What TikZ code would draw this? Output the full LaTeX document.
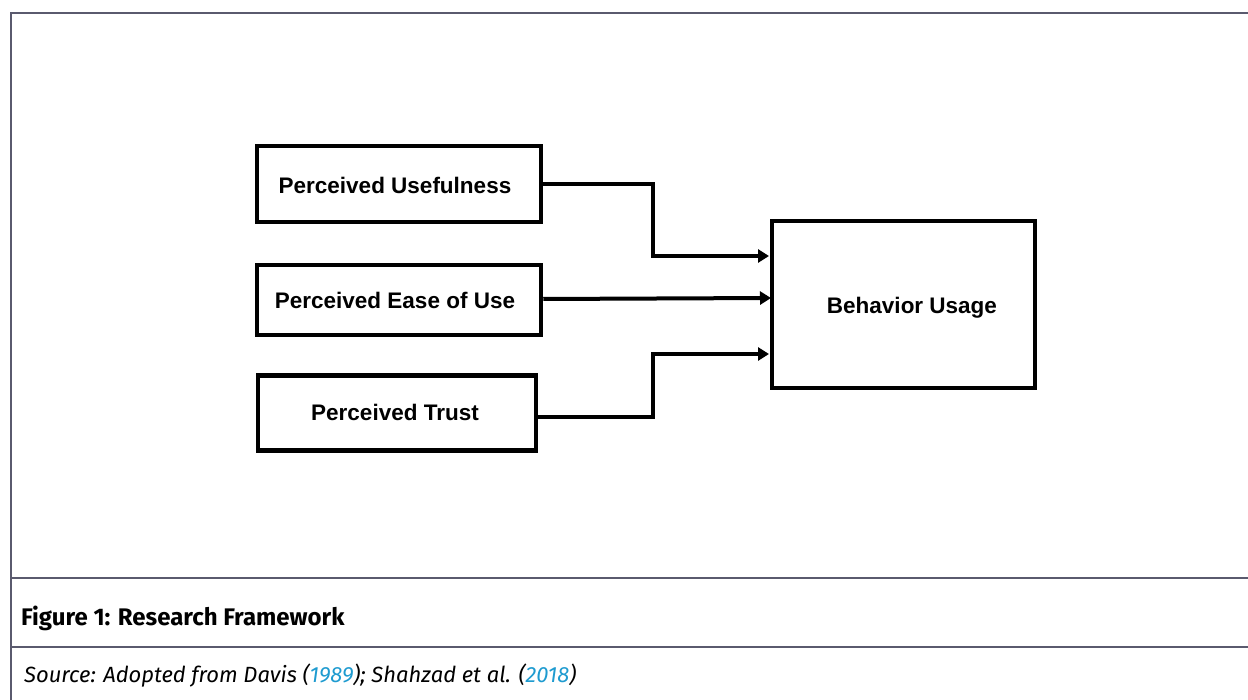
\documentclass[tikz,border=0pt]{standalone}
\usepackage{fontspec}
\setmainfont{Liberation Sans}
\newfontfamily\capfont{Fira Sans}
\usetikzlibrary{arrows.meta}
\definecolor{frame}{HTML}{5A5A6E}
\definecolor{linkc}{HTML}{1E9BD0}
\begin{document}
\begin{tikzpicture}[x=1pt,y=-1pt,
  box/.style={draw=black,line width=4.5pt,inner sep=0pt,fill=white},
  lbl/.style={font=\fontsize{22.5}{25}\selectfont\bfseries},
  conn/.style={line width=4pt,-{Triangle[length=11pt,width=13pt]}},
  frameline/.style={draw=frame,line width=1.5pt}]
\useasboundingbox (0,0) rectangle (1248,700);
\fill[white] (0,0) rectangle (1248,700);
% frame
\draw[frameline] (1248,13) -- (11,13) -- (11,700);
\draw[frameline] (11,578) -- (1248,578);
\draw[frameline] (11,647) -- (1248,647);
% boxes
\node[box,minimum width=284pt,minimum height=76pt] (pu) at (399,184) {};
\node[lbl] at (395,185) {Perceived Usefulness};
\node[box,minimum width=284pt,minimum height=70pt] (pe) at (399,300) {};
\node[lbl] at (395,300) {Perceived Ease of Use};
\node[box,minimum width=278pt,minimum height=75pt] (pt) at (397,413) {};
\node[lbl] at (395,412) {Perceived Trust};
\node[box,minimum width=263pt,minimum height=167pt] (bu) at (903.5,304.5) {};
\node[lbl] at (912,308) {Behavior Usage};
% connectors
\coordinate (a1) at (769,256);
\coordinate (a2) at (771,298);
\coordinate (a3) at (769,354);
\draw[conn] (pu.east |- 0,184) -| (653,256) -- (a1);
\draw[conn] (pe.east |- 0,299) -- (a2);
\draw[conn] (pt.east |- 0,417) -| (653,354) -- (a3);
% caption
\node[anchor=west,inner sep=0pt,font=\capfont\fontsize{24}{26}\selectfont\bfseries] (cap) at (21,618) {Figure 1: Research Framework};
\node[anchor=west,inner sep=0pt,font=\capfont\fontsize{22}{24}\selectfont\itshape] (src) at (24,676) {Source: Adopted from Davis (\textcolor{linkc}{1989}); Shahzad et al. (\textcolor{linkc}{2018})};
\end{tikzpicture}
\end{document}
